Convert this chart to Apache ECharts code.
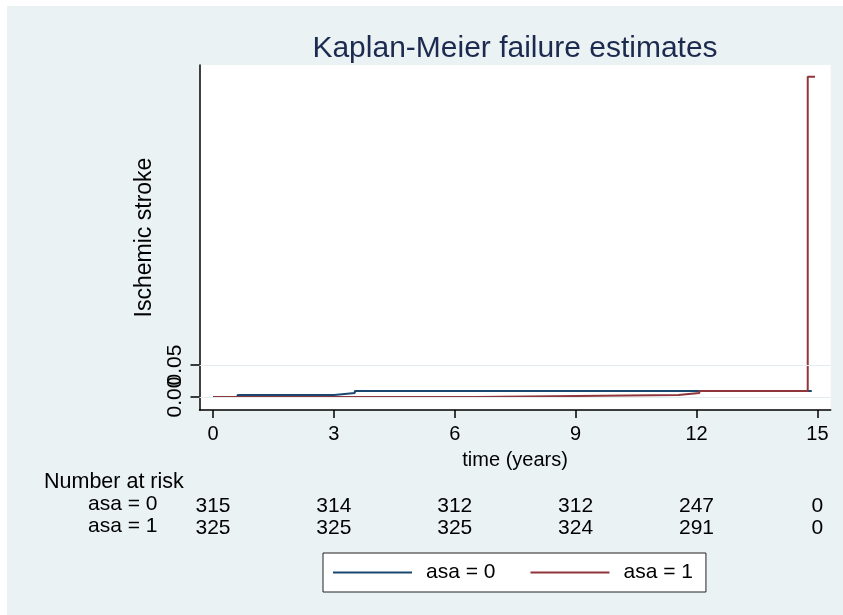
<!DOCTYPE html>
<html><head><meta charset="utf-8">
<script src="https://cdn.jsdelivr.net/npm/echarts@6/dist/echarts.min.js"></script>
<style>html,body{margin:0;padding:0;background:#fff;} #c{position:absolute;left:7px;top:6px;width:836px;height:609px;}</style>
</head><body><div id="c"></div>
<script>
// ---- data ----
const xTicks = [0, 3, 6, 9, 12, 15];
const yTicks = [0, 0.05];
const groups = ['asa = 0', 'asa = 1'];
const time0 = [0, 0.61, 3.01, 3.52, 14.86];
const fail0 = [0, 0.0032, 0.0063, 0.0095, 0.0095];
const time1 = [0, 6.50, 11.55, 12.07, 14.76, 14.94];
const fail1 = [0, 0.0031, 0.0062, 0.0094, 0.50, 0.50];
const risk0 = [315, 314, 312, 312, 247, 0];
const risk1 = [325, 325, 325, 324, 291, 0];
const riskTitle = 'Number at risk';

const FONT = '"Liberation Sans", Arial, Helvetica, sans-serif';
const BLUE = '#1a476f', RED = '#90353b';
const OX = 7, OY = 6; // container offset
const X_MIN = -0.335, X_MAX = 15.33;
const Y_MIN = -0.0203, Y_MAX = 0.5183;

const chart = echarts.init(document.getElementById('c'), null, {renderer: 'canvas'});

function riskAxis(idx, arr) {
  return {
    type: 'value', gridIndex: idx, min: X_MIN, max: X_MAX,
    axisLine: {show: false}, axisTick: {show: false}, splitLine: {show: false},
    axisLabel: {
      customValues: xTicks, margin: 0, verticalAlign: 'middle', hideOverlap: false,
      fontFamily: FONT, fontSize: 21, color: '#000',
      formatter: v => { const i = xTicks.indexOf(v); return i >= 0 ? String(arr[i]) : ''; }
    }
  };
}
function hiddenY(idx) {
  return {type: 'value', gridIndex: idx, show: false, min: 0, max: 1};
}
// one y axis per tick label so overlapping labels are both drawn
function yLabelAxis(vals, withLine) {
  return {
    type: 'value', gridIndex: 0, min: Y_MIN, max: Y_MAX, position: 'left', offset: 0,
    name: withLine ? 'Ischemic stroke' : '', nameLocation: 'middle', nameGap: 37,
    nameTextStyle: {fontFamily: FONT, fontSize: 23, color: '#000'},
    axisLine: {show: withLine, onZero: false, lineStyle: {color: '#000', width: 1.5}},
    axisTick: {show: true, customValues: vals, length: 9, lineStyle: {color: '#000', width: 1.5}},
    axisLabel: {customValues: vals, rotate: 90, margin: 14, hideOverlap: false,
                fontFamily: FONT, fontSize: 21, color: '#000', formatter: v => v.toFixed(2)},
    splitLine: {show: false}
  };
}

const gl = 199.5 - OX, gr = 843 - 830.7;
chart.setOption({
  animation: false,
  backgroundColor: '#eaf2f3',
  title: {
    text: 'Kaplan-Meier failure estimates',
    left: 510 - OX, top: 29 - OY, textAlign: 'center',
    textStyle: {fontFamily: FONT, fontSize: 30, fontWeight: 'normal', color: '#1c2a4f'}
  },
  legend: {
    data: groups,
    left: 323 - OX, top: 553 - OY,
    icon: 'rect', itemWidth: 79, itemHeight: 2, itemGap: 35,
    padding: [9, 13, 9, 10],
    backgroundColor: '#fff', borderColor: '#222', borderWidth: 1,
    textStyle: {fontFamily: FONT, fontSize: 21, color: '#000', lineHeight: 20, padding: [0, 0, 0, 9]}
  },
  grid: [
    {left: gl, right: gr, top: 65 - OY, bottom: 615 - 410, show: true, backgroundColor: '#fff', borderWidth: 0},
    {left: gl, right: gr, top: 505.5 - OY, height: 1},
    {left: gl, right: gr, top: 527.5 - OY, height: 1}
  ],
  xAxis: [
    {
      type: 'value', gridIndex: 0, min: X_MIN, max: X_MAX,
      name: 'time (years)', nameLocation: 'middle', nameGap: 40,
      nameTextStyle: {fontFamily: FONT, fontSize: 20, color: '#000'},
      axisLine: {show: true, onZero: false, lineStyle: {color: '#000', width: 1.5}},
      axisTick: {show: true, customValues: xTicks, length: 8, lineStyle: {color: '#000', width: 1.5}},
      axisLabel: {customValues: xTicks, margin: 14, fontFamily: FONT, fontSize: 20, color: '#000'},
      splitLine: {show: false}
    },
    riskAxis(1, risk0),
    riskAxis(2, risk1)
  ],
  yAxis: [
    yLabelAxis([yTicks[1]], true),
    hiddenY(1), hiddenY(2),
    yLabelAxis([yTicks[0]], false)
  ],
  graphic: [
    {type: 'text', left: 44 - OX, top: 483 - OY - 12,
     style: {text: riskTitle, font: '21.5px ' + FONT, fill: '#000'}},
    {type: 'text', left: 88 - OX, top: 506 - OY - 12,
     style: {text: groups[0], font: '21px ' + FONT, fill: '#000'}},
    {type: 'text', left: 88 - OX, top: 528 - OY - 12,
     style: {text: groups[1], font: '21px ' + FONT, fill: '#000'}}
  ],
  series: [
    {
      name: 'gridlines', type: 'line', xAxisIndex: 0, yAxisIndex: 0, z: 1, silent: true,
      data: [[0, 0]], showSymbol: false, lineStyle: {opacity: 0},
      markLine: {silent: true, symbol: 'none', label: {show: false}, animation: false,
        lineStyle: {color: '#e4ecef', width: 1.2, type: 'solid'},
        data: yTicks.map(v => ({yAxis: v}))}
    },
    {
      name: groups[0], type: 'line', step: 'end', xAxisIndex: 0, yAxisIndex: 0, z: 3,
      data: time0.map((t, i) => [t, fail0[i]]), showSymbol: false,
      lineStyle: {color: BLUE, width: 2}, itemStyle: {color: BLUE}
    },
    {
      name: groups[1], type: 'line', step: 'end', xAxisIndex: 0, yAxisIndex: 0, z: 4,
      data: time1.map((t, i) => [t, fail1[i]]), showSymbol: false,
      lineStyle: {color: RED, width: 2}, itemStyle: {color: RED}
    }
  ]
});
</script></body></html>
